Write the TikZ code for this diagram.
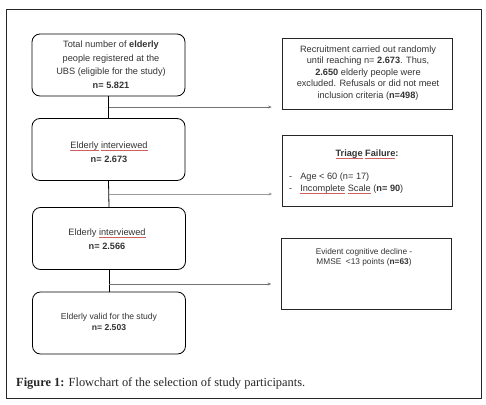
\documentclass[tikz,border=0pt]{standalone}
\usepackage{fontspec}
\setmainfont{Liberation Sans}
\newfontfamily\capfont{Liberation Serif}
\usetikzlibrary{arrows.meta}
\definecolor{txt}{HTML}{333333}
\definecolor{spell}{HTML}{D06060}
\newsavebox\spellbox
\newcommand\spellul[1]{\sbox\spellbox{#1}\rlap{\textcolor{spell}{\rule[-2pt]{\wd\spellbox}{0.4pt}}}\usebox\spellbox}
\tikzset{
  flowbox/.style={draw=black, line width=0.8pt, rounded corners=8pt, minimum width=153pt, minimum height=62pt, inner sep=0pt},
  sidebox/.style={draw=black!85, line width=0.8pt, minimum width=170pt, minimum height=71pt, inner sep=0pt},
  btext/.style={align=center, text=txt, inner sep=0pt, font=\fontsize{9.2}{13.5}\selectfont},
  stext/.style={align=center, text=txt, inner sep=0pt, font=\fontsize{9.2}{11.6}\selectfont},
  smalltext/.style={align=center, text=txt, inner sep=0pt, font=\fontsize{8.3}{10}\selectfont},
  trunk/.style={draw=black, line width=0.8pt},
  arr/.style={draw=black!55, line width=0.8pt, -{Stealth[length=3.5pt,width=3pt]}, shorten >=10pt},
}
\begin{document}
\begin{tikzpicture}[x=1pt,y=-1pt]
\useasboundingbox (0,0) rectangle (486,404);
\node[draw=black!85, line width=0.8pt, minimum width=475pt, minimum height=389pt, inner sep=0pt] (frame) at (243.5,203.5) {};

\node[flowbox] (b1) at (108.5,65) {};
\node[btext] (t1) at (111,64.5) {Total number of \textbf{elderly}\\people registered at the\\UBS (eligible for the study)\\\textbf{n= 5.821}};

\node[flowbox] (b2) at (108.5,149.5) {};
\node[btext] (t2) at (109,152) {\spellul{Elderly} \spellul{interviewed}\\\textbf{n= 2.673}};

\node[flowbox] (b3) at (109,238.5) {};
\node[btext] (t3) at (107,239) {Elderly \spellul{interviewed}\\\textbf{n= 2.566}};

\node[flowbox] (b4) at (109,323) {};
\node[smalltext, font=\fontsize{8.6}{11}\selectfont] (t4) at (109,321.5) {Elderly valid for the study\\\textbf{n= 2.503}};

\node[sidebox] (r1) at (367,73.5) {};
\node[stext] (s1) at (368,73) {Recruitment carried out randomly\\until reaching n= \textbf{2.673}. Thus,\\\textbf{2.650} elderly people were\\excluded. Refusals or did not meet\\inclusion criteria (\textbf{n=498})};

\node[sidebox] (r2) at (367.5,170.5) {};
\node[stext, font=\fontsize{9.2}{11.6}\selectfont\bfseries] (s2a) at (367,154) {\spellul{Triage} \spellul{Failure}:};
\node[stext, align=left, anchor=west] (s2b) at (289,183) {-\hspace{8pt}Age < 60 (n= 17)\\-\hspace{8pt}\spellul{Incomplete} \spellul{Scale} (\textbf{n= 90})};

\node[sidebox] (r3) at (366.5,273.5) {};
\node[smalltext] (s3) at (364,257.5) {Evident cognitive decline -\\MMSE \ <13 points (\textbf{n=63})};

\coordinate (j1) at (b1.south |- 0,107);
\coordinate (j2) at (b2.south |- 0,194);
\coordinate (j3) at (b3.south |- 0,284);

\draw[trunk] (b1.south) -- (b2.north);
\draw[trunk] (b2.south) -- (b3.north);
\draw[trunk] (b3.south) -- (b4.north);

\draw[arr] (j1) -- (j1 -| r1.west);
\draw[arr, draw=black!40, line width=0.6pt] (j2) -- (j2 -| r2.west);
\draw[arr] (j3) -- (j3 -| r3.west);

\node[anchor=base west, inner sep=0pt, font=\capfont\fontsize{12.4}{14}\selectfont, text=black!85] (cap) at (16,386) {\textbf{Figure 1:} Flowchart of the selection of study participants.};
\end{tikzpicture}
\end{document}
